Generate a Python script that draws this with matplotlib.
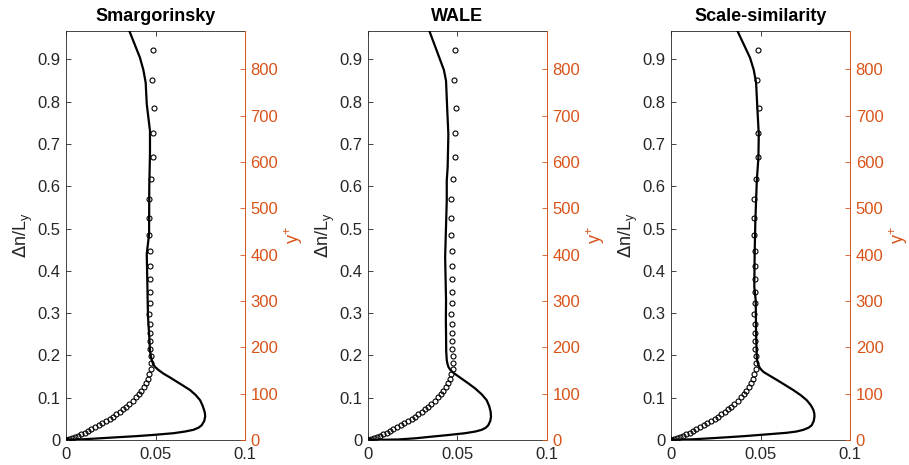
import numpy as np
import matplotlib
matplotlib.use("Agg")
import matplotlib.pyplot as plt

plt.rcParams['font.family'] = ['Liberation Sans', 'DejaVu Sans']

titles = ["Smargorinsky", "WALE", "Scale-similarity"]

# reference profile (circles), shared by all panels
ref_y = [0.0, 0.0008, 0.0022, 0.0040, 0.0065, 0.0095, 0.013, 0.017, 0.021, 0.026,
         0.031, 0.035, 0.040, 0.045, 0.050, 0.055, 0.061, 0.067, 0.073, 0.079,
         0.086, 0.093, 0.101, 0.108, 0.117, 0.126, 0.135, 0.145, 0.156, 0.169,
         0.182, 0.198, 0.214, 0.233, 0.252, 0.274, 0.299, 0.323, 0.351, 0.380,
         0.412, 0.448, 0.485, 0.525, 0.570, 0.618, 0.670, 0.725, 0.785, 0.851,
         0.921]
ref_x = [0.0, 0.0008, 0.0019, 0.0033, 0.0049, 0.0067, 0.0086, 0.0106, 0.0123, 0.0141,
         0.0162, 0.0183, 0.0203, 0.0223, 0.0244, 0.0263, 0.0281, 0.0300, 0.0318, 0.0337,
         0.0354, 0.0372, 0.0389, 0.0406, 0.0421, 0.0436, 0.0449, 0.0458, 0.0465, 0.0473,
         0.0476, 0.0475, 0.0471, 0.0469, 0.0467, 0.0467, 0.0465, 0.0468, 0.0467, 0.0467,
         0.0469, 0.0467, 0.0465, 0.0465, 0.0465, 0.0475, 0.0486, 0.0488, 0.0490, 0.0479,
         0.0484]

# model profiles (solid lines)
smag_y = [0.0, 0.0017, 0.0040, 0.0064, 0.009, 0.012, 0.016, 0.020, 0.024, 0.029,
          0.035, 0.045, 0.055, 0.063, 0.071, 0.082, 0.094, 0.106, 0.118, 0.128,
          0.138, 0.148, 0.157, 0.166, 0.173, 0.180, 0.189, 0.200, 0.212, 0.252,
          0.291, 0.330, 0.377, 0.440, 0.487, 0.597, 0.676, 0.731, 0.794, 0.845,
          0.875, 0.904, 0.967]
smag_x = [0.0, 0.0097, 0.0190, 0.0283, 0.0390, 0.0488, 0.0600, 0.0665, 0.0711, 0.0740,
          0.0758, 0.0772, 0.0777, 0.0776, 0.0771, 0.0762, 0.0749, 0.0725, 0.0693, 0.0656,
          0.0618, 0.0580, 0.0544, 0.0515, 0.0497, 0.0486, 0.0479, 0.0473, 0.0469, 0.0464,
          0.0458, 0.0456, 0.0454, 0.0451, 0.0464, 0.0465, 0.0469, 0.0469, 0.0451, 0.0445,
          0.0432, 0.0413, 0.0354]

wale_y = [0.0, 0.0012, 0.0040, 0.0079, 0.012, 0.016, 0.020, 0.024, 0.029, 0.035,
          0.045, 0.055, 0.067, 0.080, 0.094, 0.108, 0.122, 0.134, 0.145, 0.154,
          0.161, 0.167, 0.173, 0.180, 0.189, 0.210, 0.252, 0.283, 0.330, 0.432,
          0.566, 0.613, 0.645, 0.723, 0.778, 0.849, 0.875, 0.900, 0.967]
wale_x = [0.0, 0.0169, 0.0265, 0.0356, 0.0455, 0.0542, 0.0600, 0.0635, 0.0658, 0.0672,
          0.0683, 0.0687, 0.0685, 0.0677, 0.0663, 0.0635, 0.0598, 0.0560, 0.0523, 0.0493,
          0.0471, 0.0458, 0.0449, 0.0444, 0.0440, 0.0437, 0.0436, 0.0435, 0.0436, 0.0431,
          0.0440, 0.0440, 0.0445, 0.0449, 0.0443, 0.0436, 0.0424, 0.0402, 0.0343]

ss_y = [0.0, 0.0017, 0.0040, 0.0064, 0.009, 0.012, 0.017, 0.020, 0.024, 0.029,
        0.035, 0.045, 0.055, 0.063, 0.071, 0.082, 0.094, 0.106, 0.118, 0.130,
        0.142, 0.152, 0.161, 0.169, 0.177, 0.186, 0.196, 0.252, 0.330, 0.362,
        0.440, 0.519, 0.613, 0.668, 0.723, 0.786, 0.845, 0.875, 0.904, 0.967]
ss_x = [0.0, 0.0125, 0.0220, 0.0311, 0.0405, 0.0497, 0.0646, 0.0700, 0.0739, 0.0768,
        0.0786, 0.0797, 0.0801, 0.0800, 0.0795, 0.0781, 0.0758, 0.0724, 0.0683, 0.0637,
        0.0591, 0.0551, 0.0516, 0.0498, 0.0488, 0.0482, 0.0479, 0.0475, 0.0473, 0.0465,
        0.0467, 0.0471, 0.0479, 0.0488, 0.0490, 0.0482, 0.0475, 0.0462, 0.0441, 0.0371]

lines_x = [smag_x, wale_x, ss_x]
lines_y = [smag_y, wale_y, ss_y]

xticks = [0, 0.05, 0.1]
xticklabels = ["0", "0.05", "0.1"]
yticks = [0, 0.1, 0.2, 0.3, 0.4, 0.5, 0.6, 0.7, 0.8, 0.9]
yticklabels = ["0", "0.1", "0.2", "0.3", "0.4", "0.5", "0.6", "0.7", "0.8", "0.9"]
yplus_ticks = [0, 100, 200, 300, 400, 500, 600, 700, 800]

dark = '#262626'
orange = '#D95319'

fig = plt.figure(figsize=(9.09, 4.65), dpi=100)
lefts = [0.0726, 0.4048, 0.7382]

for i in range(3):
    ax = fig.add_axes([lefts[i], 0.0538, 0.197, 0.8795])
    ax.plot(lines_x[i], lines_y[i], color='k', lw=1.6, zorder=3)
    ax.plot(ref_x, ref_y, 'o', mfc='none', mec='k', ms=3.6, mew=0.8, zorder=4)
    ax.set_xlim(0, 0.1)
    ax.set_ylim(0, 0.967)
    ax.set_xticks(xticks)
    ax.set_xticklabels(xticklabels)
    ax.set_yticks(yticks)
    ax.set_yticklabels(yticklabels)
    ax.tick_params(axis='both', direction='in', length=3.5, width=0.6,
                   labelsize=12, colors=dark, top=True, right=False, pad=4)
    ax.tick_params(axis='x', pad=5)
    for s in ['left', 'bottom', 'top']:
        ax.spines[s].set_color(dark)
        ax.spines[s].set_linewidth(0.6)
    ax.spines['right'].set_visible(False)
    ax.set_ylabel(r'$\Delta$n/L$_\mathregular{y}$', fontsize=13, color=dark, labelpad=2)
    ax.set_title(titles[i], fontsize=13, fontweight='bold', pad=7)

    ax2 = ax.twinx()
    ax2.set_ylim(0, 883)
    ax2.set_yticks(yplus_ticks)
    ax2.set_yticklabels([str(t) for t in yplus_ticks])
    ax2.tick_params(axis='y', direction='in', length=3.5, width=0.6,
                    labelsize=12, colors=orange, pad=4)
    for s in ['left', 'bottom', 'top']:
        ax2.spines[s].set_visible(False)
    ax2.spines['right'].set_color(orange)
    ax2.spines['right'].set_linewidth(0.7)
    ax2.set_ylabel(r'y$^\mathregular{+}$', fontsize=13, color=orange, rotation=90, labelpad=3)

fig.savefig("out.png", dpi=100)
